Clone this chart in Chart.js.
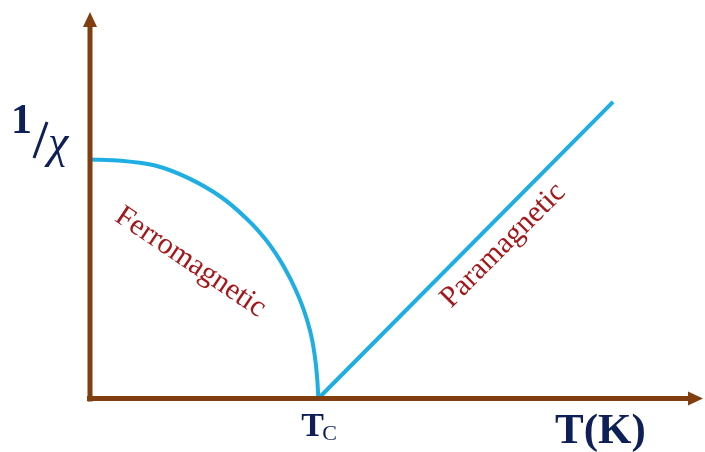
<!DOCTYPE html>
<html>
<head>
<meta charset="utf-8">
<script src="https://cdn.jsdelivr.net/npm/chart.js@4.4.1/dist/chart.umd.min.js"></script>
<style>
  html, body { margin: 0; padding: 0; background: #ffffff; }
  #wrap { width: 705px; height: 452px; position: relative; }
</style>
</head>
<body>
<div id="wrap"><canvas id="chart"></canvas></div>
<script>
// arbitrary units: Tc = 100 on the T axis, 1/chi at T=0 is 100
const ferroT   = [0, 13.6, 28.5, 42.9, 57.4, 69.2, 77.1, 83.2, 88.0, 92.0, 95.1, 97.3, 98.8, 99.6, 100];
const ferroInv = [100, 99.5, 97.5, 92.3, 84.3, 74.7, 66.3, 57.9, 49.6, 41.2, 32.8, 24.5, 15.3, 7.3, 0];
const paraT    = [100, 229.1];
const paraInv  = [0, 124.1];

const xMax = 268.5;
const yMax = 161.7;

const brown = "#813f11";
const blue = "#1faee3";
const navy = "#0f1f57";
const darkRed = "#a3191b";

const toPoints = (xs, ys) => xs.map((x, i) => ({ x: x, y: ys[i] }));

// axes with arrows and the text labels
const decorPlugin = {
    id: "decor",
    afterDatasetsDraw(chart) {
        const ctx = chart.ctx;
        const xs = chart.scales.x, ys = chart.scales.y;
        const x0 = xs.getPixelForValue(0), y0 = ys.getPixelForValue(0);
        const xr = xs.getPixelForValue(xMax), yt = ys.getPixelForValue(yMax);

        ctx.save();
        ctx.strokeStyle = brown;
        ctx.fillStyle = brown;
        ctx.lineWidth = 5;
        ctx.beginPath();
        ctx.moveTo(x0 - 3, y0);
        ctx.lineTo(xr - 12, y0);
        ctx.moveTo(x0, y0 + 3);
        ctx.lineTo(x0, yt + 12);
        ctx.stroke();
        // arrow heads
        ctx.beginPath();
        ctx.moveTo(xr, y0);
        ctx.lineTo(xr - 15, y0 - 7);
        ctx.lineTo(xr - 15, y0 + 7);
        ctx.closePath();
        ctx.fill();
        ctx.beginPath();
        ctx.moveTo(x0, yt);
        ctx.lineTo(x0 - 7, yt + 15);
        ctx.lineTo(x0 + 7, yt + 15);
        ctx.closePath();
        ctx.fill();

        // y label 1/chi
        ctx.fillStyle = navy;
        ctx.strokeStyle = navy;
        ctx.textBaseline = "alphabetic";
        ctx.textAlign = "left";
        ctx.font = "bold 42px 'Liberation Serif'";
        ctx.fillText("1", 11, 133);
        ctx.lineWidth = 3;
        ctx.beginPath();
        ctx.moveTo(34, 158);
        ctx.lineTo(47, 122);
        ctx.stroke();
        ctx.font = "italic 46px 'Liberation Serif'";
        ctx.fillText("\u03c7", 48, 157);

        // Tc
        const tcX = xs.getPixelForValue(100);
        ctx.font = "bold 34px 'Liberation Serif'";
        ctx.fillText("T", tcX - 17, 436);
        ctx.font = "22px 'Liberation Serif'";
        ctx.fillText("C", tcX + 4, 440);

        // T(K)
        ctx.font = "bold 43px 'Liberation Serif'";
        ctx.fillText("T(K)", 555, 443);

        // region names
        ctx.fillStyle = darkRed;
        ctx.font = "30px 'Liberation Serif'";
        ctx.textAlign = "center";
        ctx.textBaseline = "middle";
        ctx.save();
        ctx.translate(xs.getPixelForValue(44), ys.getPixelForValue(57));
        ctx.rotate(34 * Math.PI / 180);
        ctx.fillText("Ferromagnetic", 0, 0);
        ctx.restore();
        ctx.save();
        ctx.translate(xs.getPixelForValue(181), ys.getPixelForValue(64));
        ctx.rotate(-45 * Math.PI / 180);
        ctx.fillText("Paramagnetic", 0, 0);
        ctx.restore();
        ctx.restore();
    }
};

const ctx = document.getElementById("chart").getContext("2d");
new Chart(ctx, {
    type: "scatter",
    data: {
        datasets: [
            {
                label: "Ferromagnetic",
                data: toPoints(ferroT, ferroInv),
                showLine: true,
                borderColor: blue,
                borderWidth: 4,
                pointRadius: 0,
                tension: 0.3,
                clip: false,
                fill: false
            },
            {
                label: "Paramagnetic",
                data: toPoints(paraT, paraInv),
                showLine: true,
                borderColor: blue,
                borderWidth: 4,
                pointRadius: 0,
                clip: false,
                fill: false
            }
        ]
    },
    options: {
        responsive: true,
        maintainAspectRatio: false,
        animation: false,
        layout: { padding: { left: 90, right: 2, top: 12, bottom: 53.5 } },
        plugins: { legend: { display: false }, tooltip: { enabled: false } },
        scales: {
            x: { type: "linear", min: 0, max: xMax, display: false },
            y: { type: "linear", min: 0, max: yMax, display: false }
        }
    },
    plugins: [decorPlugin]
});
</script>
</body>
</html>
